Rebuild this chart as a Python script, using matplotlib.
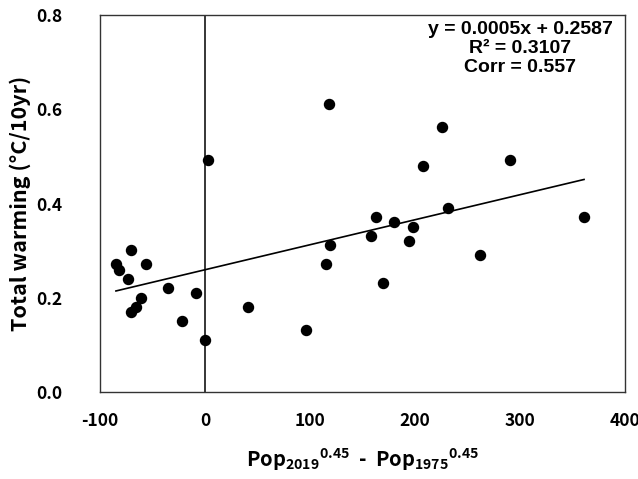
import numpy as np
import matplotlib
matplotlib.use("Agg")
import matplotlib.pyplot as plt

# data
pop_diff = [-84.8, -81.6, -70.2, -56.2, -73.3, -34.9, -8.9, -61.0, -66.0, -70.8,
            -21.6, -0.3, 41.2, 2.9, 96.2,
            118.4, 226.0, 207.3, 290.8, 163.2, 180.3, 231.1, 198.4, 158.1, 194.3,
            119.3, 115.0, 262.2, 361.0, 169.5]
warming = [0.273, 0.260, 0.301, 0.273, 0.241, 0.222, 0.211, 0.201, 0.181, 0.171,
           0.152, 0.111, 0.182, 0.493, 0.1325,
           0.612, 0.562, 0.481, 0.493, 0.372, 0.362, 0.392, 0.351, 0.332, 0.321,
           0.313, 0.272, 0.292, 0.372, 0.232]
# trend line as drawn (unrounded coefficients)
slope, intercept = 0.00053, 0.2601
fit_text = "y = 0.0005x + 0.2587\nR² = 0.3107\nCorr = 0.557"
xticks = [-100, 0, 100, 200, 300, 400]
yticks = [0.0, 0.2, 0.4, 0.6, 0.8]

kfont = ["Noto Sans CJK KR", "DejaVu Sans"]
plt.rcParams["mathtext.fontset"] = "custom"
plt.rcParams["mathtext.rm"] = "Noto Sans CJK KR:bold"
plt.rcParams["mathtext.bf"] = "Noto Sans CJK KR:bold"

fig = plt.figure(figsize=(6.38, 4.79), dpi=100)
ax = fig.add_axes([0.1567, 0.1806, 0.8229, 0.7881])

x = np.array(pop_diff)
y = np.array(warming)
ax.scatter(x, y, s=52, color="black", zorder=3)

xl = np.array([x.min(), x.max()])
ax.plot(xl, slope * xl + intercept, color="black", lw=1.2, zorder=2)
ax.axvline(0, color="black", lw=1.1, zorder=1)

ax.set_xlim(-100, 400)
ax.set_ylim(0, 0.8)
ax.set_xticks(xticks)
ax.set_xticklabels([str(v) for v in xticks])
ax.set_yticks(yticks)
ax.set_yticklabels([f"{v:.1f}" for v in yticks])
ax.tick_params(axis="x", length=0, pad=14)
ax.tick_params(axis="y", length=0, pad=27)
for lab in ax.get_xticklabels() + ax.get_yticklabels():
    lab.set_family(kfont)
    lab.set_fontweight("bold")
    lab.set_fontsize(12.5)

for s in ax.spines.values():
    s.set_color("#333333")
    s.set_linewidth(1.0)

ax.set_ylabel("Total warming (°C/10yr)", family=kfont, fontweight="bold",
              fontsize=15.5, labelpad=4)
ax.set_xlabel(r"$\mathrm{Pop}_{2019}{}^{0.45}$  -  $\mathrm{Pop}_{1975}{}^{0.45}$",
              family=kfont, fontweight="bold", fontsize=14.5, labelpad=12)

ax.text(0.80, 0.985, fit_text, transform=ax.transAxes, ha="center", va="top",
        family="Liberation Sans", fontweight="bold", fontsize=14,
        linespacing=1.15)

fig.savefig("out.png", dpi=100)
